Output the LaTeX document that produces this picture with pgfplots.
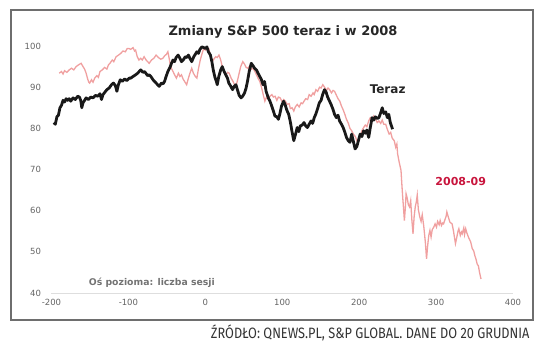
\documentclass[border=0pt]{standalone}
\usepackage{fontspec}
\setmainfont{DejaVu Sans}
\newfontfamily\srcfont[FakeStretch=0.85]{Fira Sans}
\usepackage{pgfplots}
\pgfplotsset{compat=1.18}
\definecolor{pinkline}{RGB}{240,160,160}
\definecolor{crim}{RGB}{200,20,60}
\definecolor{tickgray}{RGB}{100,100,100}
\definecolor{framegray}{RGB}{110,110,110}
\begin{document}
\begin{tikzpicture}[x=1pt,y=1pt]
\path (0,0) rectangle (536,-354);
\draw[framegray, line width=1.3pt] (11,-10) rectangle (533,-320);
\begin{axis}[
  scale only axis,
  at={(51.5pt,-293pt)}, anchor=south west,
  width=461.5pt, height=247pt,
  xmin=-200, xmax=400, ymin=40, ymax=100,
  xtick={-200,-100,0,100,200,300,400},
  ytick={40,50,60,70,80,90,100},
  axis x line*=bottom, axis y line*=left,
  y axis line style={draw=none},
  x axis line style={-, draw=black!13, line width=0.9pt},
  major tick length=0pt, tick style={draw=none},
  /pgf/number format/assume math mode=true,
  /pgf/number format/1000 sep={},
  ticklabel style={font=\fontsize{8.5}{10}\selectfont, text=tickgray},
  yticklabel style={xshift=-7pt},
  xticklabel style={yshift=-3pt},
  clip=false,
]
\addplot[pinkline, line width=1.3pt] coordinates {
(-190,93.4)(-187,93.8)(-185,93.2)(-183,94.0)(-180,93.6)(-177,94.2)(-174,94.6)(-171,94.2)(-168,95.0)(-165,95.4)
(-161.5,95.8)(-159,95.0)(-157,94.4)(-155,93.4)(-153,92.0)(-151.5,91.2)(-150.4,91.0)(-148,91.8)(-146,91.2)(-143.8,92.2)
(-141,92.8)(-139,92.4)(-137,93.8)(-134,94.2)(-131,94.8)(-128,94.4)(-126,95.4)(-124,95.8)(-121,96.6)(-119,96.2)
(-116,97.4)(-112.8,97.8)(-110,98.2)(-107,98.8)(-104,98.6)(-101.5,99.4)(-99.6,99.4)(-97,99.2)(-94,99.6)(-92,98.8)
(-90.7,99.0)(-88.5,97.4)(-86.3,96.6)(-84,97.0)(-82,96.6)(-79.6,97.4)(-77,96.6)(-75,96.2)(-73,95.8)(-70,96.6)
(-67,97.0)(-64,97.8)(-61,97.2)(-58,96.8)(-55.3,97.0)(-53,97.6)(-50.5,98.0)(-48.7,98.6)(-47,97.0)(-45.5,95.4)
(-44.2,94.6)(-42,93.8)(-40,93.0)(-37.6,92.2)(-35,93.4)(-33,92.6)(-31,93.0)(-29,92.0)(-27,91.4)(-24.3,90.6)
(-22,92.2)(-20,93.4)(-17.7,94.6)(-15.5,93.4)(-13,92.6)(-11,92.2)(-9,94.4)(-6.6,96.6)(-4.5,98.0)(-2.2,99.4)
(0,99.0)(2,99.6)(4.4,99.4)(6.5,97.8)(8.8,96.2)(11,96.8)(13.5,97.4)(15.5,97.2)(17.7,97.8)(20,96.6)
(22,95.0)(24.3,93.8)(27,93.0)(29,93.6)(31,93.4)(33.5,92.2)(36,91.4)(38,90.6)(39.8,90.2)(42,91.8)
(44,93.4)(46,95.0)(48.7,96.2)(51,95.6)(53,94.8)(55.3,94.6)(58,95.2)(60,94.4)(62,94.6)(64.5,93.8)
(67,92.8)(69,92.0)(70.8,91.4)(73,90.0)(75,88.4)(77.4,86.6)(79.5,87.6)(82,87.0)(84,87.8)(86.5,88.2)
(88.5,87.6)(90.7,87.8)(93,86.8)(95,87.6)(97.3,87.4)(100,86.4)(102,87.0)(104,86.6)(106.5,85.8)(109,86.0)
(110.5,84.8)(112.8,85.0)(115,84.2)(117,85.2)(119.5,85.8)(122,85.2)(124.5,86.2)(126.5,86.0)(128.3,86.6)(130.5,87.2)
(133,87.0)(135,88.2)(137.5,87.8)(140,88.6)(141.5,88.2)(143.8,89.4)(146,89.0)(148.5,90.0)(150.5,89.8)(152.7,90.6)
(155,90.0)(157.5,89.2)(159.5,89.8)(161.5,89.4)(164,88.6)(166,89.2)(168,89.0)(170.5,88.0)(172.5,87.2)(174.8,86.6)
(177,85.4)(179,84.6)(181.4,83.4)(183.5,82.2)(186,81.2)(188,80.0)(190.3,79.4)(192.5,78.6)(195,78.0)(197,77.0)
(199,77.4)(201.5,78.2)(203.5,79.4)(205.8,80.2)(208,80.8)(210,80.4)(212.4,81.8)(214.5,82.6)(217,82.2)(219,83.0)
(221,82.4)(223.5,81.4)(225.7,81.8)(228,81.2)(230,82.0)(232,81.0)(234.5,81.0)(236.5,79.8)(239,78.6)(241,79.0)
(243,77.6)(245.6,77.0)(247.5,75.4)(249,76.2)(250,73.8)(252,71.8)(254.4,69.8)(255.5,66.4)(256.6,63.3)(257.5,61.0)
(258.8,57.6)(260,60.6)(261,64.1)(262.5,63.0)(264,61.4)(265.5,60.9)(267,62.4)(268.5,57.8)(270,54.4)(271.5,58.6)
(273,61.0)(274.3,62.1)(275.5,63.8)(277,60.2)(278.8,58.5)(280.5,57.4)(282,59.0)(284,56.2)(286,52.4)(287.6,48.3)
(289,51.4)(290.5,54.0)(292,55.2)(293.5,53.6)(295,55.4)(297,56.0)(298.7,56.8)(300.5,56.0)(302,57.4)(304,56.6)
(305.3,57.6)(307,56.4)(308.5,57.0)(309.7,56.8)(311.5,57.8)(313,58.6)(314,59.7)(316,58.4)(318,57.2)(320.8,56.8)
(322.5,55.2)(324,53.4)(325.2,52.0)(327,53.6)(328.5,55.0)(329.6,55.6)(331.5,54.0)(333,54.8)(334,54.4)(336,55.8)
(337,54.2)(338.5,55.6)(340,54.6)(342,53.6)(343.5,53.0)(345,52.4)(347,50.8)(349,50.2)(350.5,49.0)(351.8,48.3)
(353.5,47.0)(355,46.6)(356.5,45.0)(358.4,43.4)
};
\addplot[black!90, line width=2.8pt, line join=round] coordinates {
(-197,81.4)(-195,81.0)(-193,82.8)(-191,83.2)(-189,85.0)(-187,85.6)(-185,86.8)(-183,86.4)(-181,87.2)(-179,86.8)
(-177,87.2)(-175,86.6)(-172,87.4)(-169,87.0)(-166,87.8)(-163.7,87.6)(-162,86.8)(-160.6,85.0)(-159,86.2)(-157,86.8)
(-155,87.4)(-152,87.0)(-149,87.6)(-146,87.4)(-143,88.0)(-140,87.8)(-137,88.4)(-135,87.0)(-133,88.2)(-130.5,88.8)
(-128,89.4)(-125,89.8)(-122,90.6)(-119.5,91.0)(-117,90.4)(-115,89.0)(-113,90.6)(-110.6,91.8)(-108,91.4)(-105,92.0)
(-102,91.6)(-99,92.2)(-97,92.2)(-94,92.6)(-90.7,93.0)(-88,93.4)(-86,93.8)(-84,94.2)(-81,93.6)(-79,93.8)
(-77.4,93.4)(-75,92.8)(-73,93.0)(-70.8,92.6)(-68,91.8)(-65,91.2)(-62,90.6)(-60,90.2)(-57,91.0)(-55,90.8)
(-53,91.4)(-51,92.6)(-48.7,93.8)(-46,94.8)(-44,95.8)(-42,96.6)(-40,96.2)(-38,97.2)(-35.4,97.8)(-33,97.0)
(-31,96.2)(-28.8,96.6)(-26,97.4)(-24,97.2)(-22,97.8)(-20,97.0)(-17.7,96.2)(-15,97.4)(-13,98.0)(-11,98.6)
(-9,98.2)(-7,99.2)(-4.4,99.8)(-2,99.6)(0,99.4)(2,99.8)(4,98.6)(6.6,97.8)(8.5,96.2)(10.5,94.0)
(12.5,92.4)(14,91.6)(15.5,90.6)(17.5,92.6)(20,94.2)(22,95.0)(24,94.0)(26,93.2)(28.8,92.2)(30.5,91.0)
(32.5,90.4)(35.4,89.4)(37.5,90.2)(39.8,90.6)(42,89.2)(44,88.0)(46.5,87.4)(48.5,87.8)(51,88.6)(53,89.8)
(55,91.6)(57,93.8)(59.7,95.8)(62,95.2)(64,94.6)(66.4,94.2)(68.5,93.4)(70.8,92.6)(73,91.8)(75,90.6)
(77,91.4)(79,89.0)(81.9,87.4)(84,86.6)(86,85.6)(88.5,84.2)(90.5,83.0)(93,82.8)(95,82.2)(97,83.6)
(99,85.4)(101.8,86.6)(104,85.6)(106,84.4)(108.4,83.4)(110.5,81.6)(112.5,79.4)(115,77.0)(117,78.4)(119.5,80.2)
(121.5,79.2)(123.5,80.6)(126,80.8)(128.3,81.4)(130.5,80.6)(132.7,80.2)(135,81.0)(137.5,81.8)(139.5,81.2)(141.6,82.6)
(143.5,83.4)(146,84.8)(148.2,86.2)(150.5,86.8)(152.5,88.2)(154.9,89.4)(157,88.8)(159,87.6)(161.5,86.6)(163.5,85.8)
(166,84.6)(168,83.4)(170.4,82.6)(172.5,83.2)(174.5,81.8)(177,81.0)(179.2,80.2)(181.5,79.0)(183.5,77.8)(185.8,77.0)
(188,76.6)(190.3,78.6)(192.5,76.8)(194.7,75.0)(197,75.6)(199,77.0)(201.3,78.6)(203.5,78.0)(205.8,79.4)(208,78.8)
(210,79.6)(212.4,77.8)(214.5,80.2)(216.8,82.6)(219,82.0)(221,82.8)(223.5,82.4)(225.7,82.6)(228,83.8)(230,85.0)
(232,83.6)(234.5,84.0)(236.7,82.6)(238.5,83.4)(240.5,81.4)(243.4,79.8)
};
\node[font=\bfseries\fontsize{12}{14}\selectfont, text=black!85] at (axis cs:237,89.6) {Teraz};
\node[font=\bfseries\fontsize{11}{13}\selectfont, text=crim] at (axis cs:332,67) {2008-09};
\node[font=\bfseries\fontsize{9.3}{11}\selectfont, text=black!55, anchor=west] at (axis cs:-156,42.5) {Oś pozioma: liczba sesji};
\end{axis}
\node[font=\bfseries\fontsize{13}{15}\selectfont, text=black!85] at (283,-32) {Zmiany S\&P 500 teraz i w 2008};
\node[font=\srcfont\fontsize{15}{18}\selectfont, text=black!80, anchor=east] at (533,-333) {ŹRÓDŁO: QNEWS.PL, S\&P GLOBAL. DANE DO 20 GRUDNIA};
\end{tikzpicture}
\end{document}
